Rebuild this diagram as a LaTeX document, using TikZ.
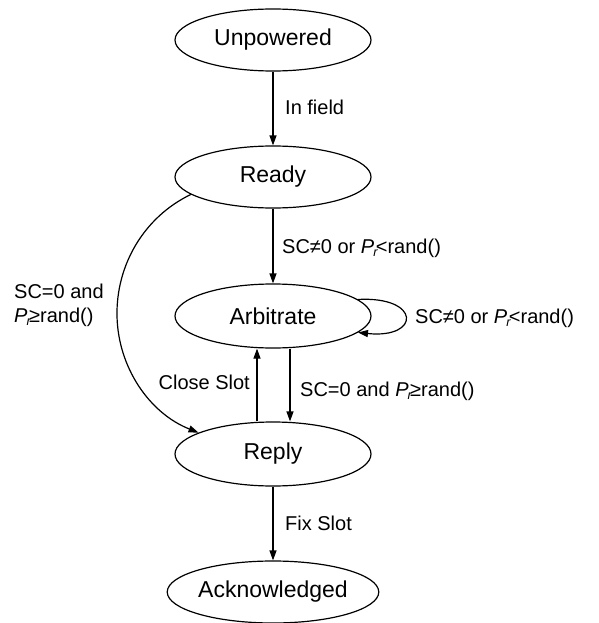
\documentclass[tikz,border=0pt]{standalone}
\usepackage{fontspec}
\setmainfont{Liberation Sans}
\usetikzlibrary{shapes.geometric,arrows.meta}
\newcommand{\PRr}{\textit{P}\kern-0.05em\raisebox{-0.35ex}{\fontsize{12.5pt}{12.5pt}\selectfont\textit{r}}\kern-0.1em}
\begin{document}
\begin{tikzpicture}[x=1pt,y=-1pt,
  state/.style={draw,ellipse,line width=1.2pt,minimum width=196pt,minimum height=62pt,inner sep=0pt,font=\fontsize{23pt}{27pt}\selectfont},
  lbl/.style={font=\fontsize{20pt}{24pt}\selectfont,inner sep=0pt},
  arr/.style={line width=1.2pt,-{Triangle[length=10pt,width=7pt]}}]
\path[use as bounding box] (0,0) rectangle (598,623);
\node[state] (U) at (273,40) {Unpowered};
\node[state] (R) at (273,177) {Ready};
\node[state,minimum height=64pt] (A) at (273,316) {Arbitrate};
\node[state,minimum height=64pt] (P) at (273,454) {Reply};
\node[state] (K) at (273,592) {Acknowledged};
\coordinate (m) at (117,316);
\draw[arr] (U) -- (R);
\draw[arr] (R) -- (A);
\draw[arr] ([xshift=17pt]A.south) -- ([xshift=17pt]P.north);
\draw[arr] ([xshift=-16pt]P.north) -- ([xshift=-16pt]A.south);
\draw[arr] (P) -- (K);
\draw[arr] (A.11) .. controls (421,296) and (421,339) .. (A.-11);
\draw[arr] (R.192) .. controls (144,217) and (116,265) .. (m)
  .. controls (118,367) and (149,413) .. (P.164);
\node[lbl,anchor=west] (l1) at (285,107) {In field};
\node[lbl,anchor=west] (l2) at (282,248) {SC≠0 or \PRr<rand()};
\node[lbl,anchor=west] (l3) at (415,318) {SC≠0 or \PRr<rand()};
\node[lbl,anchor=west] (l4) at (300,391) {SC=0 and \PRr≥rand()};
\node[lbl,anchor=east] (l5) at (250,382) {Close Slot};
\node[lbl,anchor=west,align=left] (l6) at (14,305) {SC=0 and\\\PRr≥rand()};
\node[lbl,anchor=west] (l7) at (285,523) {Fix Slot};
\end{tikzpicture}
\end{document}
